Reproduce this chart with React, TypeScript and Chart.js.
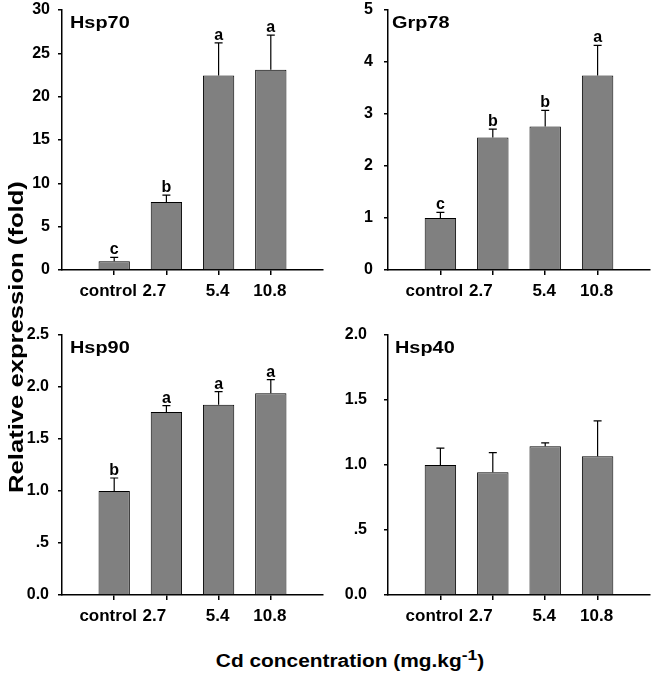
import React, { useEffect, useRef } from 'react';
import { Chart, registerables } from 'chart.js';

Chart.register(...registerables);

// ---- data ----
const categories = ['control', '2.7', '5.4', '10.8'];

const hsp70Mean = [1.0, 7.85, 22.45, 23.1];
const hsp70Err = [0.45, 0.8, 3.75, 4.0];
const hsp70Letters = ['c', 'b', 'a', 'a'];

const grp78Mean = [1.0, 2.55, 2.76, 3.74];
const grp78Err = [0.11, 0.16, 0.31, 0.58];
const grp78Letters = ['c', 'b', 'b', 'a'];

const hsp90Mean = [1.0, 1.76, 1.83, 1.94];
const hsp90Err = [0.125, 0.06, 0.125, 0.13];
const hsp90Letters = ['b', 'a', 'a', 'a'];

const hsp40Mean = [1.0, 0.945, 1.145, 1.067];
const hsp40Err = [0.13, 0.15, 0.025, 0.273];
const hsp40Letters: string[] = [];

const yAxisTitle = 'Relative expression (fold)';
const xAxisTitle = 'Cd concentration (mg.kg';
const xAxisTitleSup = '-1';

// ---- layout / style ----
const FONT = "'Liberation Sans', Arial, Helvetica, sans-serif";
// horizontal nudges of the category labels (px), as in the original figure
const labelNudge = [-6, -12, -1, -1];

type Panel = {
  title: string;
  means: number[];
  errs: number[];
  letters: string[];
  yMax: number;
  yStep: number;
  decimals: boolean;
  left: number;
  top: number;
  padTop: number;
  padRight: number;
  padBottom: number;
  yGap: number;
  titleDx: number;
};

const panels: Panel[] = [
  { title: 'Hsp70', means: hsp70Mean, errs: hsp70Err, letters: hsp70Letters, yMax: 30, yStep: 5, decimals: false,
    left: 0, top: 0, padTop: 10, padRight: 3, padBottom: 10, yGap: 8, titleDx: 8 },
  { title: 'Grp78', means: grp78Mean, errs: grp78Err, letters: grp78Letters, yMax: 5, yStep: 1, decimals: false,
    left: 326, top: 0, padTop: 10, padRight: 2, padBottom: 10, yGap: 11, titleDx: 4 },
  { title: 'Hsp90', means: hsp90Mean, errs: hsp90Err, letters: hsp90Letters, yMax: 2.5, yStep: 0.5, decimals: true,
    left: 0, top: 320, padTop: 15, padRight: 3, padBottom: 5, yGap: 9, titleDx: 8 },
  { title: 'Hsp40', means: hsp40Mean, errs: hsp40Err, letters: hsp40Letters, yMax: 2.0, yStep: 0.5, decimals: true,
    left: 326, top: 320, padTop: 15, padRight: 2, padBottom: 5, yGap: 17, titleDx: 7 },
];

const CW = 326;
const CH = 320;

function fmtY(v: number, decimals: boolean): string {
  if (!decimals) return String(Math.round(v));
  let s = v.toFixed(1);
  if (v > 0 && v < 1) s = s.slice(1);
  return s;
}

function overlayPlugin(p: Panel) {
  return {
    id: 'overlay_' + p.title,
    afterDatasetsDraw(chart: any) {
      const ctx = chart.ctx as CanvasRenderingContext2D;
      const meta = chart.getDatasetMeta(0);
      const ys = chart.scales.y;
      const xs = chart.scales.x;
      const area = chart.chartArea;
      ctx.save();
      ctx.strokeStyle = '#000';
      ctx.fillStyle = '#000';
      ctx.lineWidth = 1.2;
      p.means.forEach((m, i) => {
        const bar = meta.data[i];
        if (!bar) return;
        const x = bar.x;
        const y0 = ys.getPixelForValue(m);
        const y1 = ys.getPixelForValue(m + p.errs[i]);
        ctx.beginPath();
        ctx.moveTo(x, y0);
        ctx.lineTo(x, y1);
        ctx.moveTo(x - 4, y1);
        ctx.lineTo(x + 4, y1);
        ctx.stroke();
        const letter = p.letters[i];
        if (letter) {
          ctx.font = `bold 16px ${FONT}`;
          ctx.textAlign = 'center';
          ctx.textBaseline = 'alphabetic';
          ctx.fillText(letter, x, y1 - 3);
        }
      });
      // category labels
      ctx.font = `bold 17px ${FONT}`;
      ctx.textAlign = 'center';
      ctx.textBaseline = 'alphabetic';
      categories.forEach((c, i) => {
        const x = xs.getPixelForValue(i + 1) + labelNudge[i];
        ctx.fillText(c, x, area.bottom + 26);
      });
      // panel title
      ctx.font = `bold 17px ${FONT}`;
      ctx.textAlign = 'left';
      ctx.translate(area.left + p.titleDx, area.top + 17.5);
      ctx.scale(1.17, 1);
      ctx.fillText(p.title, 0, 0);
      ctx.restore();
    },
  };
}

function makeConfig(p: Panel): any {
  const tickFont = { family: FONT, size: 16, weight: 'bold' as const };
  return {
    type: 'bar',
    data: {
      datasets: [
        {
          data: p.means.map((v, i) => ({ x: i + 1, y: v })),
          backgroundColor: '#808080',
          borderColor: '#000000',
          borderWidth: 1,
          categoryPercentage: 1,
          barPercentage: 0.6,
        },
      ],
    },
    options: {
      responsive: false,
      animation: false,
      events: [],
      layout: { padding: { left: 0, right: p.padRight, top: p.padTop, bottom: p.padBottom } },
      plugins: { legend: { display: false }, tooltip: { enabled: false }, title: { display: false } },
      scales: {
        x: {
          type: 'linear',
          min: 0,
          max: 5,
          offset: false,
          afterBuildTicks: (s: any) => {
            s.ticks = categories.map((_, i) => ({ value: i + 1 }));
          },
          afterFit: (s: any) => {
            s.height = 40;
            s.paddingLeft = 0;
            s.paddingRight = 0;
          },
          ticks: { display: false },
          grid: { display: true, drawOnChartArea: false, drawTicks: true, tickLength: 5, color: '#000', lineWidth: 1.5, offset: false },
          border: { display: true, color: '#000', width: 1.5 },
        },
        y: {
          type: 'linear',
          min: 0,
          max: p.yMax,
          afterFit: (s: any) => {
            s.width = 62;
            s.paddingTop = 0;
            s.paddingBottom = 0;
          },
          ticks: {
            stepSize: p.yStep,
            callback: (v: number) => fmtY(v, p.decimals),
            font: tickFont,
            color: '#000',
            padding: p.yGap,
          },
          grid: { display: true, drawOnChartArea: false, drawTicks: true, tickLength: 4, color: '#000', lineWidth: 1.5, offset: false },
          border: { display: true, color: '#000', width: 1.5 },
        },
      },
    },
    plugins: [overlayPlugin(p)],
  };
}

function PanelChart({ p }: { p: Panel }) {
  const ref = useRef<HTMLCanvasElement | null>(null);
  useEffect(() => {
    if (!ref.current) return;
    const chart = new Chart(ref.current, makeConfig(p));
    return () => chart.destroy();
  }, [p]);
  return (
    <canvas
      ref={ref}
      width={CW}
      height={CH}
      style={{ position: 'absolute', left: p.left, top: p.top, width: CW, height: CH }}
    />
  );
}

export default function App() {
  return (
    <div
      style={{
        position: 'fixed',
        left: 0,
        top: 0,
        width: 652,
        height: 678,
        background: '#fff',
        overflow: 'hidden',
        fontFamily: FONT,
      }}
    >
      {panels.map((p) => (
        <PanelChart key={p.title} p={p} />
      ))}
      <div
        style={{
          position: 'absolute',
          left: 16 - 200,
          top: 337 - 15,
          width: 400,
          height: 30,
          lineHeight: '30px',
          textAlign: 'center',
          fontWeight: 'bold',
          fontSize: 21,
          color: '#000',
          transform: 'rotate(-90deg) scaleX(1.22)',
          whiteSpace: 'nowrap',
        }}
      >
        {yAxisTitle}
      </div>
      <div
        style={{
          position: 'absolute',
          left: 0,
          top: 651,
          width: 700,
          height: 24,
          lineHeight: '20px',
          textAlign: 'center',
          fontWeight: 'bold',
          fontSize: 18,
          color: '#000',
          transform: 'scaleX(1.16)',
          transformOrigin: '350px 10px',
          whiteSpace: 'nowrap',
        }}
      >
        {xAxisTitle}
        <span style={{ fontSize: 15, position: 'relative', top: -7 }}>{xAxisTitleSup}</span>)
      </div>
    </div>
  );
}
